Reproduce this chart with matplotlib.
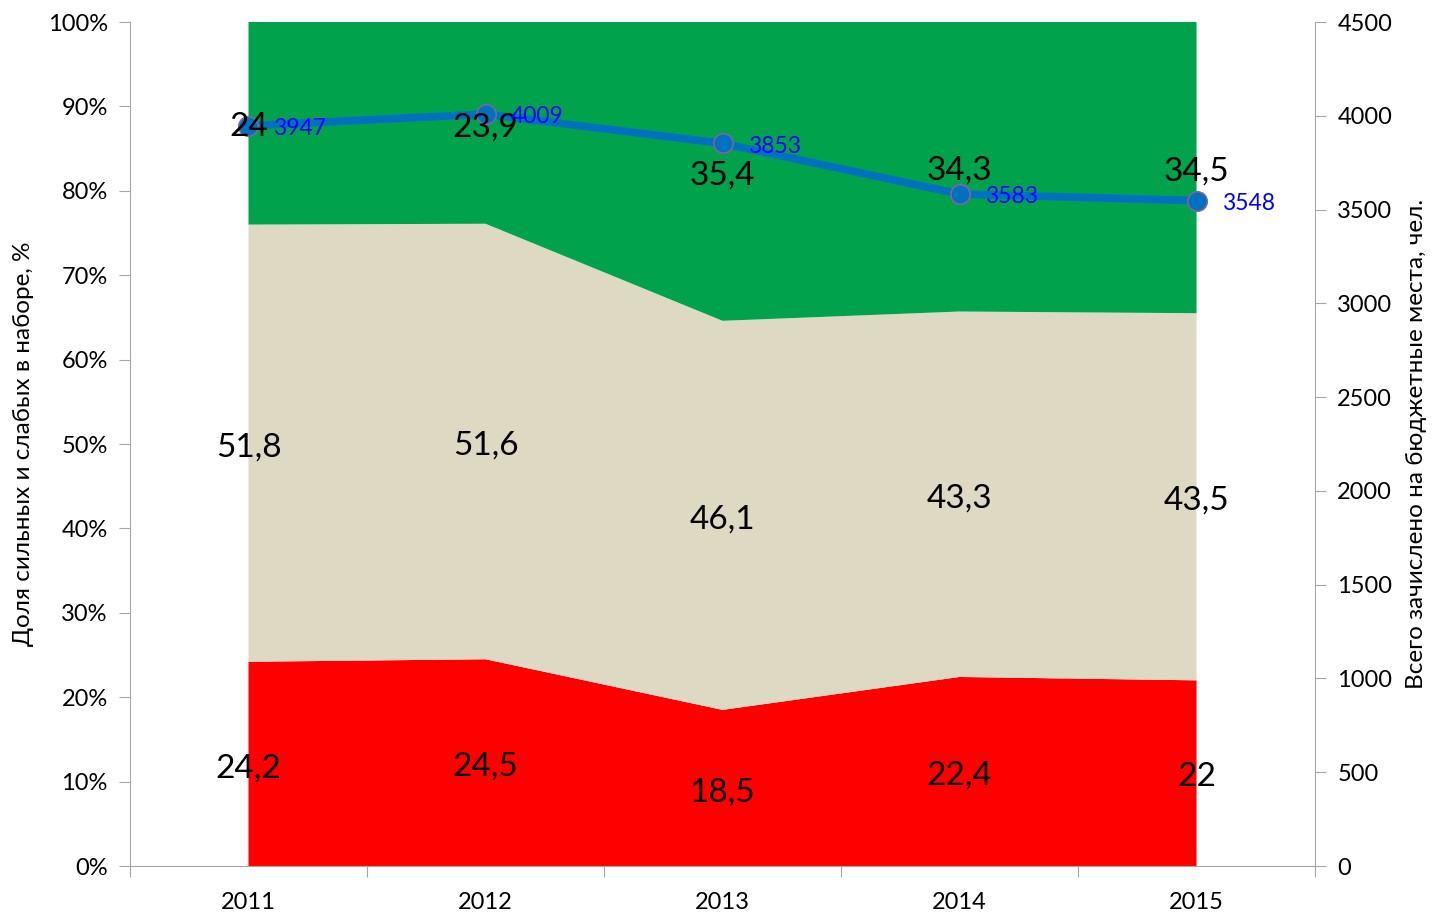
import matplotlib
matplotlib.use("Agg")
import matplotlib.pyplot as plt
import matplotlib.ticker as mticker

# Данные
years = ["2011", "2012", "2013", "2014", "2015"]
weak = [24.2, 24.5, 18.5, 22.4, 22]       # слабые
middle = [51.8, 51.6, 46.1, 43.3, 43.5]   # средние
strong = [24, 23.9, 35.4, 34.3, 34.5]     # сильные
total = [3947, 4009, 3853, 3583, 3548]    # всего зачислено

plt.rcParams['font.family'] = ['Lato', 'DejaVu Sans']

fig = plt.figure(figsize=(14.33, 9.14), dpi=100)
ax = fig.add_axes([0.0907, 0.0525, 0.827, 0.9234])

x = list(range(len(years)))
ax.stackplot(x, weak, middle, strong,
             colors=["#FF0000", "#DDD9C3", "#00A24C"], linewidth=0)

ax.set_xlim(-0.5, len(years) - 0.5)
ax.set_ylim(0, 100)
ax.yaxis.set_major_locator(mticker.MultipleLocator(10))
ax.yaxis.set_major_formatter(mticker.FuncFormatter(lambda v, p: "%d%%" % v))

# подписи лет по центру, засечки между категориями
ax.set_xticks([i - 0.5 for i in range(len(years) + 1)])
ax.set_xticklabels([])
ax.set_xticks(x, minor=True)
ax.set_xticklabels(years, minor=True)
ax.tick_params(axis="x", which="major", length=8, color="#A6A6A6")
ax.tick_params(axis="x", which="minor", length=0, pad=19, labelsize=17)
ax.tick_params(axis="y", length=8, color="#A6A6A6", labelsize=17, pad=8)

for s in ["top", "right"]:
    ax.spines[s].set_visible(False)
for s in ["left", "bottom"]:
    ax.spines[s].set_color("#A6A6A6")

ax.set_ylabel("Доля сильных и слабых в наборе, %", fontsize=17.5, labelpad=10)

# правая ось
ax2 = ax.twinx()
ax2.set_ylim(0, 4500)
ax2.yaxis.set_major_locator(mticker.MultipleLocator(500))
ax2.plot(x, total, color="#0070C0", linewidth=5.5, marker="o",
         markersize=14, markerfacecolor="#0070C0", markeredgecolor="#8064A2",
         markeredgewidth=1.2, solid_capstyle="round")
for s in ["top", "left", "bottom"]:
    ax2.spines[s].set_visible(False)
ax2.spines["right"].set_color("#A6A6A6")
ax2.tick_params(axis="y", length=8, color="#A6A6A6", labelsize=17, pad=8)
ax2.set_ylabel("Всего зачислено на бюджетные места, чел.", fontsize=17.5, labelpad=10)

# подписи значений областей
def lbl(v):
    return str(v).replace(".", ",")

for i in x:
    ys = [weak[i] / 2, weak[i] + middle[i] / 2, weak[i] + middle[i] + strong[i] / 2]
    vals = [weak[i], middle[i], strong[i]]
    for yv, v in zip(ys, vals):
        ax2.annotate(lbl(v), (i, yv), xycoords=ax.transData, xytext=(0, -3),
                     textcoords="offset points", ha="center", va="center",
                     fontsize=24, color="black")

# подписи линии
for i in x:
    ax2.annotate(str(total[i]), (i, total[i]), xytext=(18, -2),
                 textcoords="offset points", ha="left", va="center",
                 fontsize=16.5, color="#0000FF")

fig.savefig("out.png", dpi=100)
